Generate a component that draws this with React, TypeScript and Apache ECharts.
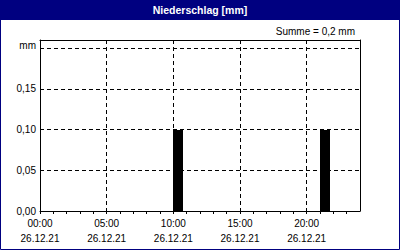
import React, { useEffect, useRef } from "react";
import * as echarts from "echarts";

const title = "Niederschlag [mm]";
const sumText = "Summe = 0,2 mm";
const dateLabel = "26.12.21";
const unitLabel = "mm";
// bar start hour, value (mm)
const barHours = [10, 21];
const barValues = [0.1, 0.1];
const barDuration = 0.75; // hours
const xMin = 0;
const xMax = 24;
const yMax = 0.21;
const yStep = 0.05;

const FONT = "'Liberation Sans', Arial, sans-serif";
const NAVY = "#000080";

export default function App() {
  const ref = useRef<HTMLDivElement>(null);
  useEffect(() => {
    document.body.style.margin = "0";
    if (!ref.current) return;
    const chart = echarts.init(ref.current, undefined, { renderer: "svg" });
    const data = barHours.map((h, i) => [h, barValues[i]]);
    const solid = { show: true, onZero: false, lineStyle: { color: "#000", width: 1 } };
    chart.setOption({
      animation: false,
      backgroundColor: "#fff",
      textStyle: { fontFamily: FONT },
      grid: { left: 40, right: 40, top: 40, bottom: 39 },
      xAxis: [
        {
          type: "value",
          min: xMin,
          max: xMax,
          interval: 1,
          position: "bottom",
          axisLine: solid,
          axisTick: { show: true, length: 3, lineStyle: { color: "#000" } },
          splitLine: { show: false },
          axisLabel: {
            show: true,
            margin: 4.5,
            color: "#000",
            fontFamily: FONT,
            fontSize: 10,
            lineHeight: 15,
            showMaxLabel: false,
            formatter: (v: number) => {
              const r = Math.round(v);
              if (r % 5 !== 0 || r >= xMax) return "";
              return String(r).padStart(2, "0") + ":00\n" + dateLabel;
            },
          },
        },
        {
          type: "value",
          min: xMin,
          max: xMax,
          interval: 5,
          position: "top",
          axisLine: solid,
          axisTick: { show: false },
          axisLabel: { show: false },
          splitLine: {
            show: true,
            lineStyle: { color: "#000", type: [4, 3], width: 1 },
          },
        },
      ],
      yAxis: [
        {
          type: "value",
          min: 0,
          max: yMax,
          interval: yStep,
          position: "left",
          axisLine: solid,
          axisTick: { show: false },
          splitLine: {
            show: true,
            lineStyle: { color: "#000", type: [4, 3], width: 1 },
          },
          axisLabel: {
            margin: 4,
            color: "#000",
            fontFamily: FONT,
            fontSize: 10,
            showMaxLabel: false,
            formatter: (v: number) => {
              if (Math.abs(v - 0.2) < 1e-9) return "{u|" + unitLabel + "}";
              return v.toFixed(2).replace(".", ",");
            },
            rich: {
              u: { fontSize: 10, fontFamily: FONT, color: "#000", padding: [0, 0, 6, 0] },
            },
          },
        },
        {
          type: "value",
          min: 0,
          max: yMax,
          position: "right",
          axisLine: solid,
          axisTick: { show: false },
          axisLabel: { show: false },
          splitLine: { show: false },
        },
      ],
      series: [
        {
          type: "custom",
          xAxisIndex: 0,
          yAxisIndex: 0,
          data,
          renderItem: (params: any, api: any) => {
            const x0 = api.value(0);
            const v = api.value(1);
            const p1 = api.coord([x0, v]);
            const p2 = api.coord([x0 + barDuration, 0]);
            return {
              type: "rect",
              shape: {
                x: Math.round(p1[0]),
                y: Math.round(p1[1]),
                width: Math.round(p2[0] - p1[0]),
                height: Math.round(p2[1] - p1[1]),
              },
              style: { fill: "#000" },
            };
          },
        },
      ],
      graphic: [
        {
          type: "rect",
          shape: { x: 0, y: 0, width: 400, height: 20 },
          style: { fill: NAVY },
          z: 10,
        },
        {
          type: "rect",
          shape: { x: 0.5, y: 0.5, width: 399, height: 249 },
          style: { fill: "none", stroke: NAVY, lineWidth: 1 },
          z: 10,
        },
        {
          type: "text",
          x: 200,
          y: 10,
          z: 11,
          style: {
            text: title,
            fill: "#fff",
            font: "bold 10.5px " + FONT,
            align: "center",
            verticalAlign: "middle",
          },
        },
        {
          type: "text",
          x: 355,
          y: 31,
          z: 11,
          style: {
            text: sumText,
            fill: "#000",
            font: "10px " + FONT,
            align: "right",
            verticalAlign: "middle",
          },
        },
      ],
    });
    return () => chart.dispose();
  }, []);
  return <div ref={ref} style={{ width: 400, height: 250 }} />;
}
